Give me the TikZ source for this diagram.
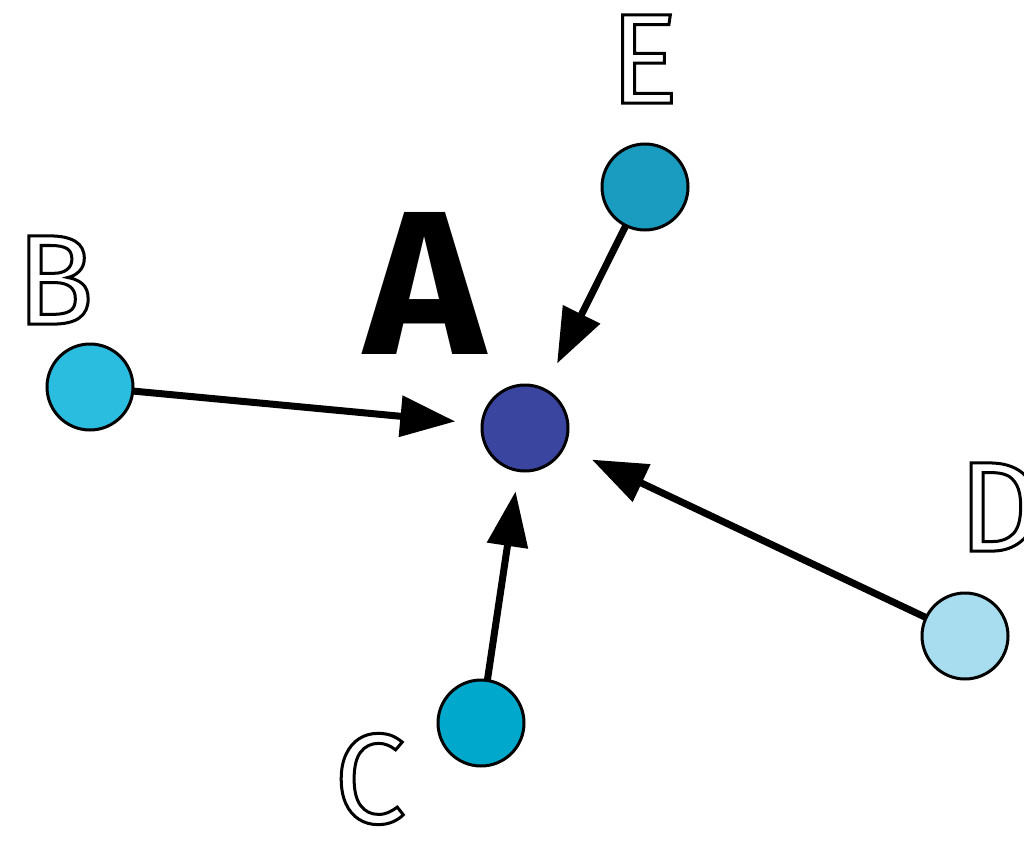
\documentclass[tikz,border=0pt]{standalone}
\usepackage{fontspec}
\setmainfont{Fira Sans}
\usetikzlibrary{arrows.meta}
\definecolor{cA}{HTML}{3A45A0}
\definecolor{cB}{HTML}{2BBDE0}
\definecolor{cC}{HTML}{00A8CC}
\definecolor{cD}{HTML}{A8DCEF}
\definecolor{cE}{HTML}{1A9CC0}
\newcommand\outlinetext[1]{\special{pdf:literal direct 1 Tr 3 w}#1\special{pdf:literal direct 0 Tr 1 w}}
\begin{document}
\begin{tikzpicture}[x=1pt,y=-1pt,
  dot/.style={circle,draw=black,line width=3pt,minimum size=86pt,inner sep=0pt,outer sep=0pt},
  link/.style={line width=7pt,-{Triangle[length=55pt,width=40pt]}},
  olabel/.style={inner sep=0pt,font=\fontsize{128}{128}\selectfont}]
\useasboundingbox (0,0) rectangle (1024,845);
\node[dot,fill=cA] (A) at (525,428) {};
\node[dot,fill=cB] (B) at (90,387) {};
\node[dot,fill=cE] (E) at (645,187) {};
\node[dot,fill=cC] (C) at (481,723) {};
\node[dot,fill=cD] (D) at (965,636) {};
\node[inner sep=0pt,font=\fontsize{205}{205}\selectfont\bfseries] (lA) at (425,283) {A};
\node[olabel] (lB) at (55,280) {\outlinetext{B}};
\node[olabel] (lE) at (644,59) {\outlinetext{E}};
\node[olabel] (lC) at (370,779) {\outlinetext{C}};
\node[olabel,anchor=west] (lD) at (958,507) {\outlinetext{D}};
\draw[link,shorten >=27pt] (B) -- (A);
\draw[link,shorten >=29pt] (E) -- (A);
\draw[link,shorten >=21pt] (C) -- (A);
\draw[link,shorten >=31pt] (D) -- (A);
\end{tikzpicture}
\end{document}
